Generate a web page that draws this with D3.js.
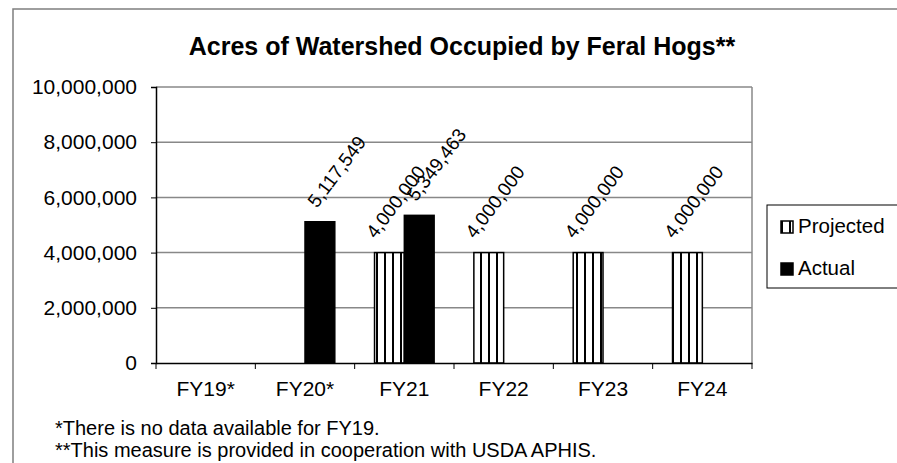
<!DOCTYPE html>
<html>
	<head>
		<meta charset="utf-8" />
		<title>Acres of Watershed Occupied by Feral Hogs</title>
		<script src="https://d3js.org/d3.v7.min.js"></script>
		<style>
			body { margin: 0; background: #fff; }
			text { font-family: "Liberation Sans", Arial, sans-serif; fill: #000; }
		</style>
	</head>
	<body>
		<svg width="897" height="463"></svg>
		<script>
			// data
			const categories = ["FY19*", "FY20*", "FY21", "FY22", "FY23", "FY24"];
			const seriesNames = ["Projected", "Actual"];
			const projected = [null, null, 4000000, 4000000, 4000000, 4000000];
			const actual = [null, 5117549, 5349463, null, null, null];
			const yTicks = [0, 2000000, 4000000, 6000000, 8000000, 10000000];
			const footnotes = [
				"*There is no data available for FY19.",
				"**This measure is provided in cooperation with USDA APHIS."
			];

			const svg = d3.select("svg");
			const plot = { left: 156, right: 752, top: 87, bottom: 363 };

			// vertical stripe fill for the projected bars
			const defs = svg.append("defs");
			const pat = defs.append("pattern")
				.attr("id", "vstripe")
				.attr("patternUnits", "userSpaceOnUse")
				.attr("width", 8)
				.attr("height", 8);
			pat.append("rect").attr("width", 8).attr("height", 8).attr("fill", "#fff");
			pat.append("rect").attr("x", 0).attr("width", 2).attr("height", 8).attr("fill", "#000");

			// outer chart frame (runs off the picture at right and bottom)
			svg.append("rect")
				.attr("x", 13).attr("y", 9)
				.attr("width", 1000).attr("height", 1000)
				.attr("fill", "none")
				.attr("stroke", "#7f7f7f")
				.attr("stroke-width", 1.5);

			const x = d3.scaleBand()
				.domain(categories)
				.range([plot.left, plot.right]);

			const gap = x.bandwidth() * 0.2;
			const x1 = d3.scaleBand()
				.domain(seriesNames)
				.range([gap, x.bandwidth() - gap]);

			const y = d3.scaleLinear()
				.domain([0, 10000000])
				.range([plot.bottom, plot.top]);

			// gridlines
			svg.append("g")
				.selectAll("line")
				.data(yTicks.filter((d) => d > 0))
				.enter()
				.append("line")
				.attr("x1", plot.left)
				.attr("x2", plot.right)
				.attr("y1", (d) => y(d))
				.attr("y2", (d) => y(d))
				.attr("stroke", "#888")
				.attr("stroke-width", 1.5);

			svg.append("line")
				.attr("x1", plot.right).attr("x2", plot.right)
				.attr("y1", plot.top).attr("y2", plot.bottom)
				.attr("stroke", "#888")
				.attr("stroke-width", 1.5);

			// bars
			const rows = categories.map((c, i) => ({ cat: c, Projected: projected[i], Actual: actual[i] }));
			const bars = [];
			rows.forEach((r) => {
				seriesNames.forEach((s) => {
					if (r[s] != null) bars.push({ cat: r.cat, series: s, value: r[s] });
				});
			});

			svg.append("g")
				.selectAll("rect")
				.data(bars)
				.enter()
				.append("rect")
				.attr("x", (d) => x(d.cat) + x1(d.series))
				.attr("y", (d) => y(d.value))
				.attr("width", x1.bandwidth())
				.attr("height", (d) => y(0) - y(d.value))
				.attr("fill", (d) => (d.series === "Actual" ? "#000" : "url(#vstripe)"))
				.attr("stroke", "#000")
				.attr("stroke-width", 1.5);

			// rotated value labels
			const fmt = d3.format(",");
			svg.append("g")
				.selectAll("text")
				.data(bars)
				.enter()
				.append("text")
				.attr("transform", (d) => {
					const cx = x(d.cat) + x1(d.series) + x1.bandwidth() / 2;
					const dx = d.series === "Actual" ? -3 : -14;
					return `translate(${cx + dx},${y(d.value) - 13}) rotate(-53)`;
				})
				.style("font-size", "19px")
				.text((d) => fmt(d.value));

			// y axis
			const yAxis = svg.append("g")
				.attr("transform", `translate(${plot.left},0)`)
				.call(d3.axisLeft(y).tickValues(yTicks).tickFormat(fmt).tickSize(5).tickPadding(14));
			yAxis.select(".domain").attr("stroke", "#000").attr("stroke-width", 1.5);
			yAxis.selectAll(".tick line").attr("stroke", "#000");
			yAxis.selectAll("text").style("font-size", "21px").attr("fill", "#000");

			// x axis with ticks on the category boundaries
			const xAxis = svg.append("g")
				.attr("transform", `translate(0,${plot.bottom})`)
				.call(d3.axisBottom(x).tickSize(0).tickPadding(18));
			xAxis.select(".domain").attr("stroke", "#000").attr("stroke-width", 1.5);
			xAxis.selectAll("text").style("font-size", "21px").attr("fill", "#000");

			const bounds = categories.map((c) => x(c)).concat([x.range()[1]]);
			svg.append("g")
				.selectAll("line")
				.data(bounds)
				.enter()
				.append("line")
				.attr("x1", (d) => d)
				.attr("x2", (d) => d)
				.attr("y1", plot.bottom)
				.attr("y2", plot.bottom + 6)
				.attr("stroke", "#000");

			// title
			svg.append("text")
				.attr("x", 462)
				.attr("y", 55)
				.attr("text-anchor", "middle")
				.style("font-size", "25px")
				.style("font-weight", "bold")
				.text("Acres of Watershed Occupied by Feral Hogs**");

			// legend
			const legend = svg.append("g").attr("transform", "translate(767,205)");
			legend.append("rect")
				.attr("width", 200)
				.attr("height", 83)
				.attr("fill", "#fff")
				.attr("stroke", "#000");
			const items = legend.selectAll("g")
				.data(seriesNames)
				.enter()
				.append("g")
				.attr("transform", (d, i) => `translate(14,${16 + i * 42})`);
			items.append("rect")
				.attr("width", 12)
				.attr("height", 12)
				.attr("fill", (d) => (d === "Actual" ? "#000" : "url(#vstripe)"))
				.attr("stroke", "#000")
				.attr("stroke-width", 1.5);
			items.append("text")
				.attr("x", 17)
				.attr("y", 12)
				.style("font-size", "20.5px")
				.text((d) => d);

			// footnotes
			svg.append("g")
				.selectAll("text")
				.data(footnotes)
				.enter()
				.append("text")
				.attr("x", 55)
				.attr("y", (d, i) => 435 + i * 22)
				.style("font-size", "20px")
				.text((d) => d);
		</script>
	</body>
</html>
